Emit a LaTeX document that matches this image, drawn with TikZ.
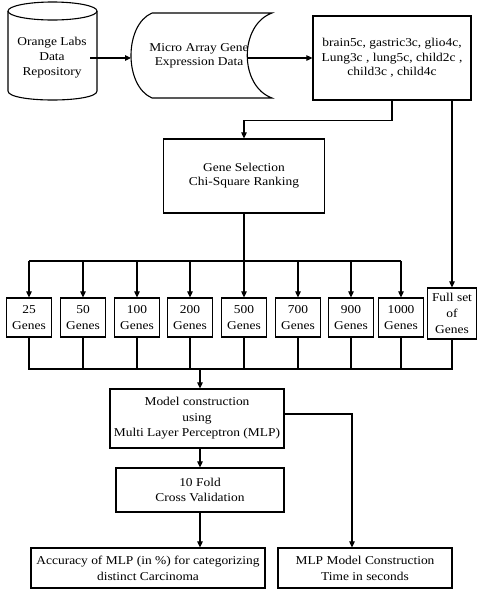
\documentclass[tikz,border=0pt]{standalone}
\usepackage{fontspec}
\setmainfont{Liberation Serif}[FakeStretch=1.12]
\usetikzlibrary{arrows.meta}
\begin{document}
\begin{tikzpicture}[x=1pt,y=-1pt,
  every node/.style={inner sep=0pt, align=center, font=\fontsize{12}{15}\selectfont},
  box/.style={draw, line width=1.2pt},
  gbox/.style={box, minimum width=45pt, minimum height=39pt, font=\fontsize{12}{16}\selectfont},
  arr/.style={-{Triangle[length=6pt,width=5.5pt]}, line width=1.1pt},
  ln/.style={line width=1.1pt}]
\useasboundingbox (0,0) rectangle (478,598);
% cylinder
\draw[ln] (52.5,11) ellipse [x radius=44.5, y radius=9];
\draw[ln] (8,11) -- (8,91) .. controls (8,103) and (97,103) .. (97,91) -- (97,11);
\node (repo) at (52,58) {Orange Labs\\Data\\Repository};
% stored data shape
\draw[ln] (152,13) -- (272,13) .. controls (239,25) and (239,86) .. (272,98) -- (152,98) .. controls (124,86) and (124,25) .. (152,13);
\node[font=\fontsize{12}{14}\selectfont] (ma) at (199,56) {Micro Array Gene\\Expression Data};
\node[box, minimum width=158pt, minimum height=84pt, font=\fontsize{12}{14.5}\selectfont] (ds) at (392,58) {brain5c, gastric3c, glio4c,\\Lung3c , lung5c, child2c ,\\child3c , child4c};
\coordinate (repoR) at (90,58);
\coordinate (maL) at (131,58);
\coordinate (maR) at (247,58);
\draw[arr] (repoR) -- (maL);
\draw[arr] (maR) -- (ds.west);
% gene selection
\node[box, minimum width=161pt, minimum height=74pt, font=\fontsize{12}{14}\selectfont] (gs) at (244,176) {Gene Selection\\Chi-Square Ranking};
\draw[arr] (ds.south) -- ++(0,20) -| (gs.north);
% gene boxes
\node[gbox] (g25) at (29,317.5) {25\\Genes};
\node[gbox] (g50) at (83,317.5) {50\\Genes};
\node[gbox] (g100) at (137,317.5) {100\\Genes};
\node[gbox] (g200) at (190,317.5) {200\\Genes};
\node[gbox] (g500) at (244,317.5) {500\\Genes};
\node[gbox] (g700) at (298,317.5) {700\\Genes};
\node[gbox] (g900) at (351,317.5) {900\\Genes};
\node[gbox] (g1000) at (401,317.5) {1000\\Genes};
\node[box, minimum width=49pt, minimum height=51pt, font=\fontsize{12}{16}\selectfont] (full) at (452,313.5) {Full set\\of\\Genes};
\draw[arr] (full.north |- ds.south) -- (full.north);
\coordinate (busT) at (0,261);
\coordinate (busB) at (0,369);
\draw[ln] (g25.north |- busT) -- (g1000.north |- busT);
\draw[arr] (gs.south) -- (g500.north);
\foreach \g in {g25,g50,g100,g200,g700,g900,g1000}{
  \draw[arr] (\g.north |- busT) -- (\g.north);
}
\foreach \g in {g50,g100,g200,g500,g700,g900,g1000}{
  \draw[ln] (\g.south) -- (\g.south |- busB);
}
\draw[ln] (g25.south) -- (g25.south |- busB) -- (full.south |- busB) -- (full.south);
% model
\node[box, minimum width=174pt, minimum height=59pt, font=\fontsize{12}{15.5}\selectfont] (model) at (197,418.5) {Model construction\\using\\Multi Layer Perceptron (MLP)};
\draw[arr] ([xshift=3pt]model.north |- busB) -- ([xshift=3pt]model.north);
\node[box, minimum width=168pt, minimum height=44pt] (cv) at (200,490) {10 Fold\\Cross Validation};
\draw[arr] (cv.north |- model.south) -- (cv.north);
\node[box, minimum width=234pt, minimum height=40pt, font=\fontsize{12}{16}\selectfont] (acc) at (148,568) {Accuracy of MLP (in \%) for categorizing\\distinct Carcinoma};
\node[box, minimum width=174pt, minimum height=40pt, font=\fontsize{12}{16}\selectfont] (time) at (365,568) {MLP Model Construction\\Time in seconds};
\draw[arr] (cv.south) -- (cv.south |- acc.north);
\draw[arr] ([yshift=4.5pt]model.east) -| ([xshift=-13pt]time.north);
\end{tikzpicture}
\end{document}
